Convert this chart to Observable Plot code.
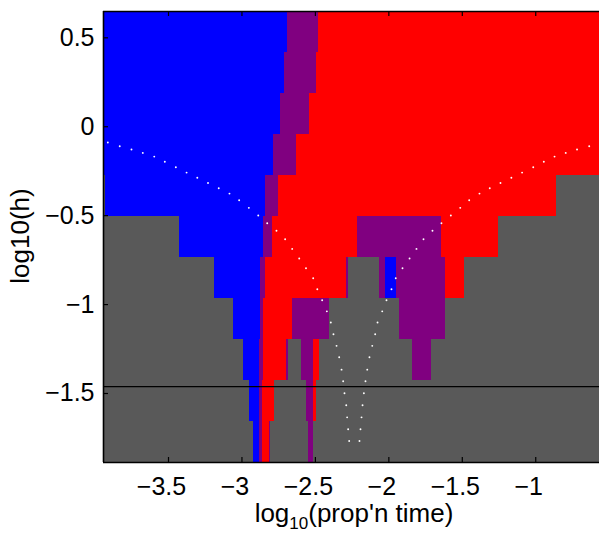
<!DOCTYPE html>
<html>
<head>
<meta charset="utf-8">
<script src="https://cdn.jsdelivr.net/npm/d3@7"></script>
<script src="https://cdn.jsdelivr.net/npm/@observablehq/plot@0.6"></script>
<style>
  html, body { margin: 0; padding: 0; background: #fff; }
  svg { display: block; }
</style>
</head>
<body>
<div id="chart"></div>
<script>
// ---- axis extents (data units) ----
const xLo = -3.9425, xHi = -0.566;
const yLo = -1.888, yHi = 0.648;

// ---- tick values ----
const xTicks = [-3.5, -3, -2.5, -2, -1.5, -1];
const yTicks = [0.5, 0, -0.5, -1, -1.5];

// ---- rows: log10(h) centres, top to bottom ----
const logH = [0.533, 0.302, 0.072, -0.159, -0.389, -0.620, -0.850, -1.081, -1.311, -1.542, -1.773];
const halfRow = 0.11527;

// ---- regime per row: [class, right edge in log10(prop'n time)] ----
// g = none (gray), b = blue regime, p = both (purple), r = red regime
const row0  = [["b",-2.690],["p",-2.481],["r",xHi]];
const row1  = [["b",-2.710],["p",-2.493],["r",xHi]];
const row2  = [["b",-2.738],["p",-2.540],["r",xHi]];
const row3  = [["b",-2.785],["p",-2.629],["r",xHi]];
const row4  = [["g",-3.932],["b",-2.840],["p",-2.751],["r",-0.859],["g",xHi]];
const row5  = [["g",-3.425],["b",-2.853],["p",-2.792],["r",-2.213],["p",-1.642],["r",-1.256],["g",xHi]];
const row6  = [["g",-3.187],["b",-2.874],["p",-2.840],["r",-2.288],["p",-2.275],["g",-2.064],["p",-2.023],["b",-1.948],["p",-1.614],["r",-1.487],["g",xHi]];
const row7  = [["g",-3.058],["b",-2.874],["p",-2.853],["r",-2.656],["p",-2.404],["g",-1.927],["p",-1.614],["g",xHi]];
const row8  = [["g",-2.989],["b",-2.881],["p",-2.853],["r",-2.697],["p",-2.683],["g",-2.595],["p",-2.513],["r",-2.472],["g",-1.839],["p",-1.710],["g",xHi]];
const row9  = [["g",-2.949],["b",-2.881],["p",-2.860],["r",-2.778],["g",-2.561],["p",-2.513],["r",-2.493],["g",xHi]];
const row10 = [["g",-2.921],["b",-2.881],["p",-2.860],["r",-2.812],["p",-2.806],["g",-2.547],["p",-2.513],["g",xHi]];

const regimeColors = {g: "#595959", b: "#0000ff", p: "#800080", r: "#ff0000"};

// ---- dotted boundary curve (white dots), shared y levels ----
const dotY = [-0.089,-0.110,-0.128,-0.147,-0.168,-0.197,-0.228,-0.258,-0.287,-0.316,-0.346,-0.376,-0.413,-0.456,-0.499,-0.543,-0.585,-0.633,-0.687,-0.741,-0.796,-0.852,-0.914,-0.976,-1.038,-1.101,-1.167,-1.232,-1.296,-1.366,-1.431,-1.499,-1.566,-1.634,-1.701,-1.767];
const dotXLeft = [-3.913,-3.832,-3.752,-3.675,-3.597,-3.525,-3.450,-3.377,-3.304,-3.231,-3.158,-3.085,-3.019,-2.953,-2.889,-2.828,-2.765,-2.706,-2.658,-2.610,-2.564,-2.515,-2.487,-2.454,-2.422,-2.395,-2.377,-2.356,-2.338,-2.322,-2.311,-2.302,-2.290,-2.284,-2.277,-2.270];
const dotXRight = [-0.559,-0.636,-0.719,-0.796,-0.872,-0.945,-1.017,-1.093,-1.166,-1.240,-1.313,-1.383,-1.453,-1.514,-1.578,-1.642,-1.703,-1.764,-1.812,-1.859,-1.907,-1.953,-1.982,-2.016,-2.045,-2.077,-2.093,-2.113,-2.132,-2.147,-2.159,-2.170,-2.179,-2.186,-2.193,-2.200];

// ---- horizontal reference line ----
const refLine = [-1.461];

// ---- build tables ----
const rows = [row0,row1,row2,row3,row4,row5,row6,row7,row8,row9,row10];
const cells = [];
rows.forEach((segs, i) => {
  let x0 = xLo;
  for (const [c, x1] of segs) {
    cells.push({x1: x0, x2: x1, y1: logH[i] - halfRow, y2: logH[i] + halfRow, color: regimeColors[c]});
    x0 = x1;
  }
});
const dots = [];
dotY.forEach((y, i) => {
  dots.push({x: dotXLeft[i], y});
  dots.push({x: dotXRight[i], y});
});

const W = 599, H = 533, mL = 103, mR = 0, mT = 11, mB = 71;
const innerW = W - mL - mR, innerH = H - mT - mB;
const font = "'Liberation Sans', Arial, Helvetica, sans-serif";

const plot = Plot.plot({
  width: W,
  height: H,
  marginLeft: mL,
  marginRight: mR,
  marginTop: mT,
  marginBottom: mB,
  style: {fontFamily: font, fontSize: "25px", color: "black", background: "white", overflow: "hidden"},
  x: {domain: [xLo, xHi], label: null},
  y: {domain: [yLo, yHi], label: null},
  marks: [
    Plot.rect(cells, {x1: "x1", x2: "x2", y1: "y1", y2: "y2", fill: "color", shapeRendering: "crispEdges", clip: true}),
    Plot.dot(dots, {x: "x", y: "y", r: 0.95, fill: "white", stroke: null, clip: true}),
    Plot.ruleY(refLine, {stroke: "black", strokeWidth: 1.2}),
    // frame (left, top, bottom)
    Plot.ruleX([xLo], {stroke: "black", strokeWidth: 1.6}),
    Plot.ruleY([yLo, yHi], {stroke: "black", strokeWidth: 1.6}),
    // inward ticks
    Plot.ruleX(xTicks, {insetTop: innerH - 5, stroke: "black", strokeWidth: 1.2}),
    Plot.ruleX(xTicks, {insetBottom: innerH - 5, stroke: "black", strokeWidth: 1.2}),
    Plot.ruleY(yTicks, {insetRight: innerW - 5, stroke: "black", strokeWidth: 1.2}),
    Plot.axisX(xTicks, {anchor: "bottom", tickSize: 0, tickPadding: 15, dx: -7, fontSize: 25, fontFamily: font, tickFormat: d3.format("~g"), label: null}),
    Plot.axisY(yTicks, {anchor: "left", tickSize: 0, tickPadding: 9, fontSize: 25, fontFamily: font, tickFormat: d3.format("~g"), label: null})
  ]
});

const svg = d3.select(plot);
const xl = svg.append("text")
  .attr("x", 354).attr("y", 522)
  .attr("text-anchor", "middle")
  .attr("font-family", font).attr("font-size", 26).attr("fill", "black");
xl.append("tspan").text("log");
xl.append("tspan").attr("font-size", 17).attr("dy", 7).text("10");
xl.append("tspan").attr("dy", -7).text("(prop'n time)");

svg.append("text")
  .attr("transform", "translate(29,236) rotate(-90)")
  .attr("text-anchor", "middle")
  .attr("font-family", font).attr("font-size", 26).attr("fill", "black")
  .text("log10(h)");

document.getElementById("chart").appendChild(plot);
</script>
</body>
</html>
